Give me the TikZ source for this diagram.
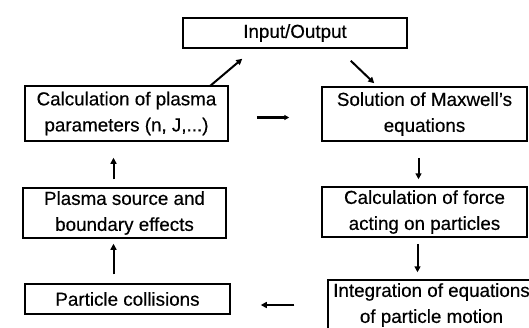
\documentclass[tikz,border=0pt]{standalone}
\usepackage{fontspec}
\setmainfont{Liberation Sans}[FakeBold=0.4]
\usetikzlibrary{arrows.meta,positioning}
\tikzstyle{block} = [draw, line width=1.5pt, inner sep=0pt, align=center, font=\fontsize{18.8}{26}\selectfont]
\tikzstyle{arrow} = [line width=2pt, -{Triangle[length=6pt,width=6pt]}]

\begin{document}
\begin{tikzpicture}[x=1pt, y=-1pt]
\useasboundingbox (0,0) rectangle (529,327);
% Boxes
\node[block, minimum width=224pt, minimum height=30pt] (io) at (295,33) {Input/Output};
\node[block, minimum width=203pt, minimum height=55pt] (params) at (126.5,113.5) {Calculation of plasma\\parameters (n, J,...)};
\node[block, minimum width=205pt, minimum height=54pt] (maxwell) at (424.5,114) {Solution of Maxwell's\\equations};
\node[block, minimum width=203pt, minimum height=50pt] (source) at (124.5,213) {Plasma source and\\boundary effects};
\node[block, minimum width=205pt, minimum height=50pt] (force) at (424.5,212) {Calculation of force\\acting on particles};
\node[block, minimum width=205pt, minimum height=30pt] (collisions) at (127.5,299) {Particle collisions};
\node[block, minimum width=207pt, minimum height=50pt] (integ) at (431.5,305) {Integration of equations\\of particle motion};

% Arrows
\draw[arrow] ([xshift=-19pt,yshift=-1pt]params.north east) -- ([xshift=60pt,yshift=-10pt]io.south west);
\draw[arrow] ([xshift=-57pt,yshift=-12pt]io.south east) -- ([xshift=53pt,yshift=3pt]maxwell.north west);
\draw[arrow, line width=3.5pt, -{Triangle[length=5pt,width=5pt]}, shorten <=28pt, shorten >=32pt] ([yshift=-4pt]params.east) -- ([yshift=-4pt]params.east -| maxwell.west);
\draw[arrow, shorten <=16pt, shorten >=7pt] ([xshift=-6pt]maxwell.south) -- ([xshift=-6pt]force.north);
\draw[arrow, shorten <=6pt, shorten >=7pt] ([xshift=-7pt]force.south) -- ([xshift=-7pt]force.south |- integ.north);
\draw[arrow, shorten <=33pt, shorten >=30pt] (integ.west) -- (integ.west -| collisions.east);
\draw[arrow, shorten <=9pt, shorten >=5pt] ([xshift=-14pt]collisions.north) -- ([xshift=-14pt]collisions.north |- source.south);
\draw[arrow, shorten <=8pt, shorten >=16pt] ([xshift=-11pt]source.north) -- ([xshift=-11pt]source.north |- params.south);
\end{tikzpicture}
\end{document}
